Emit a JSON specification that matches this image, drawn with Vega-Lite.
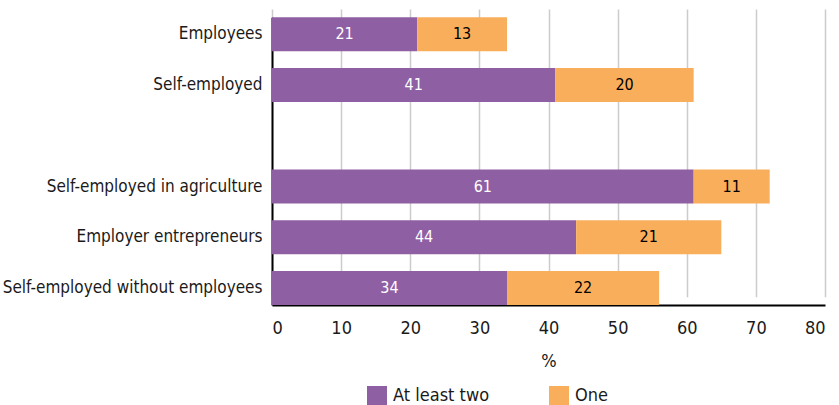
{
  "$schema": "https://vega.github.io/schema/vega-lite/v6.json",
  "width": 553,
  "height": 296,
  "autosize": "none",
  "padding": {"top": 9, "left": 272, "right": 14, "bottom": 100},
  "config": {
    "font": "DejaVu Sans Condensed",
    "view": {"stroke": null},
    "axis": {"labelFont": "DejaVu Sans Condensed", "titleFont": "DejaVu Sans Condensed"},
    "legend": {"labelFont": "DejaVu Sans Condensed"}
  },
  "data": {
    "values": [
      {"group": "Employees", "type": "At least two", "value": 21},
      {"group": "Employees", "type": "One", "value": 13},
      {"group": "Self-employed", "type": "At least two", "value": 41},
      {"group": "Self-employed", "type": "One", "value": 20},
      {"group": "Self-employed in agriculture\u2004", "type": "At least two", "value": 61},
      {"group": "Self-employed in agriculture\u2004", "type": "One", "value": 11},
      {"group": "Employer entrepreneurs", "type": "At least two", "value": 44},
      {"group": "Employer entrepreneurs", "type": "One", "value": 21},
      {"group": "Self-employed without employees", "type": "At least two", "value": 34},
      {"group": "Self-employed without employees", "type": "One", "value": 22}
    ]
  },
  "transform": [
    {"stack": "value", "groupby": ["group"], "sort": [{"field": "type", "order": "ascending"}], "as": ["x0", "x1"]},
    {"calculate": "(datum.x0 + datum.x1) / 2", "as": "mid"}
  ],
  "encoding": {
    "y": {
      "field": "group",
      "type": "nominal",
      "scale": {
        "domain": ["Employees", "Self-employed", " ", "Self-employed in agriculture\u2004", "Employer entrepreneurs", "Self-employed without employees"],
        "range": [8.3, 296],
        "paddingInner": 0.33,
        "paddingOuter": 0
      },
      "axis": {
        "title": null,
        "ticks": false,
        "domainColor": "#000000",
        "domainWidth": 2,
        "labelFontSize": 17,
        "labelColor": "#1a1a1a",
        "labelPadding": 10,
        "labelLimit": 0
      }
    }
  },
  "layer": [
    {
      "mark": {"type": "bar"},
      "encoding": {
        "x": {
          "field": "x0",
          "type": "quantitative",
          "scale": {"domain": [0, 80], "nice": false},
          "axis": {
            "title": "%",
            "values": [0, 10, 20, 30, 40, 50, 60, 70, 80],
            "grid": true,
            "gridColor": "#cccccc",
            "gridWidth": 1.5,
            "ticks": false,
            "domainColor": "#000000",
            "domainWidth": 2,
            "labelFontSize": 18,
            "labelColor": "#1a1a1a",
            "labelPadding": 14,
            "titleFontSize": 18,
            "titleFontWeight": "normal",
            "titleColor": "#1a1a1a",
            "titlePadding": 15
          }
        },
        "x2": {"field": "x1"},
        "color": {
          "field": "type",
          "type": "nominal",
          "scale": {"domain": ["At least two", "One"], "range": ["#8f5fa3", "#f9ae5b"]},
          "legend": {
            "title": null,
            "orient": "none",
            "direction": "horizontal",
            "legendX": 95,
            "legendY": 377,
            "symbolType": "square",
            "symbolSize": 400,
            "symbolStrokeWidth": 0,
            "labelFontSize": 18,
            "labelColor": "#1a1a1a",
            "labelOffset": 6,
            "columnPadding": 59
          }
        }
      }
    },
    {
      "mark": {"type": "text", "fontSize": 16, "baseline": "middle", "align": "center"},
      "encoding": {
        "x": {"field": "mid", "type": "quantitative"},
        "text": {"field": "value", "type": "quantitative"},
        "color": {
          "field": "type",
          "type": "nominal",
          "scale": {"domain": ["At least two", "One"], "range": ["#ffffff", "#000000"]},
          "legend": null
        }
      }
    }
  ],
  "resolve": {"scale": {"color": "independent"}}
}
